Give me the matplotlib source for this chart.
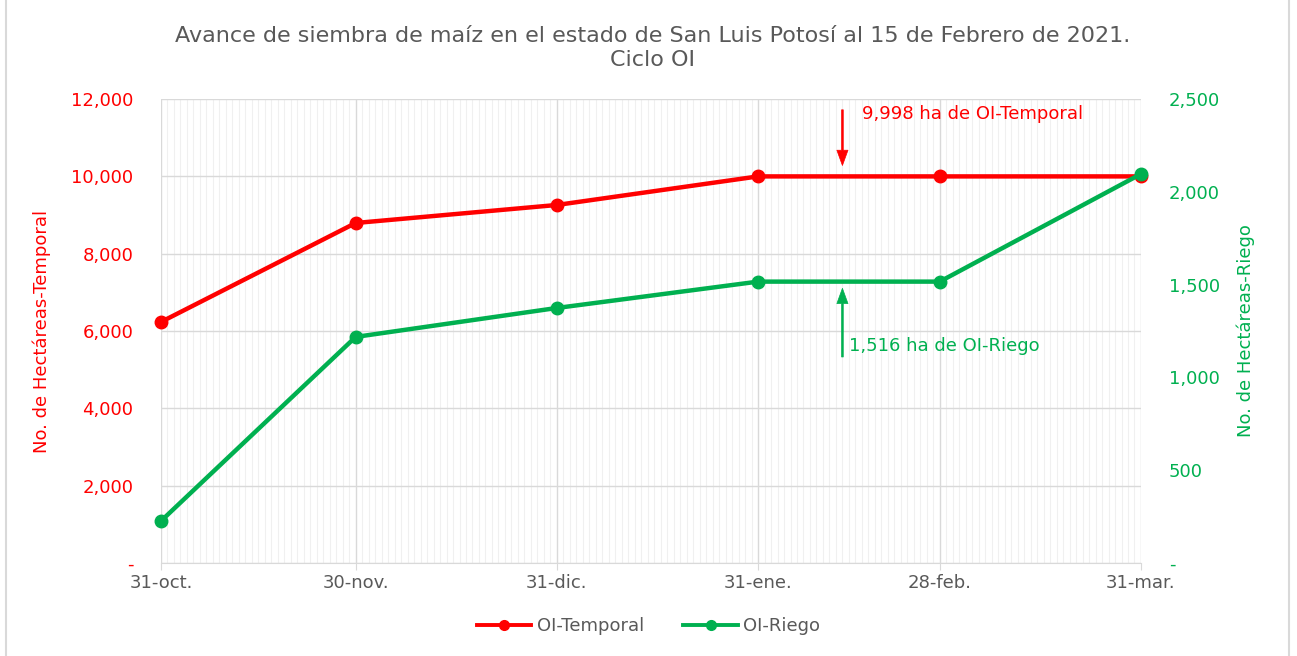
import matplotlib
matplotlib.use("Agg")
import matplotlib.pyplot as plt
import matplotlib.dates as mdates
import pandas as pd
from matplotlib.patches import Rectangle

plt.rcParams['font.family'] = ['DejaVu Sans']

fechas = ['2020-10-31', '2020-11-30', '2020-12-31', '2021-01-31', '2021-02-28', '2021-03-31']
etiquetas = ['31-oct.', '30-nov.', '31-dic.', '31-ene.', '28-feb.', '31-mar.']
temporal = [6233, 8793, 9259, 9998, 9998, 9998]
riego = [226, 1218, 1374, 1516, 1516, 2096]

x = pd.to_datetime(fechas)
ROJO = '#FF0000'
VERDE = '#00B050'
GRIS = '#595959'

fig = plt.figure(figsize=(12.97, 6.56), dpi=100)
ax = fig.add_axes([0.1241, 0.1418, 0.7556, 0.7073])
ax2 = ax.twinx()

fig.patches.append(Rectangle((0.005, -0.01), 0.989, 1.05, transform=fig.transFigure,
                             fill=False, edgecolor='#D9D9D9', lw=1.5))

l1, = ax.plot(x, temporal, color=ROJO, lw=3.2, marker='o', ms=9, clip_on=False, zorder=5,
              label='OI-Temporal')
l2, = ax2.plot(x, riego, color=VERDE, lw=3.2, marker='o', ms=9, clip_on=False, zorder=5,
               label='OI-Riego')

ax.set_xlim(x[0], x[-1])
ax.set_ylim(0, 12000)
ax2.set_ylim(0, 2500)

ax.set_xticks(x)
ax.set_xticklabels(etiquetas)
ax.xaxis.set_minor_locator(mdates.DayLocator())
ax.grid(True, which='major', color='#D9D9D9', lw=1)
ax.grid(True, which='minor', axis='x', color='#F0F0F0', lw=0.8)
ax.set_axisbelow(True)

fmt = lambda v, p: '-' if v == 0 else f'{v:,.0f}'
ax.set_yticks(range(0, 12001, 2000))
ax.yaxis.set_major_formatter(plt.FuncFormatter(fmt))
ax2.set_yticks(range(0, 2501, 500))
ax2.yaxis.set_major_formatter(plt.FuncFormatter(fmt))

for s in ['top', 'left', 'right']:
    ax.spines[s].set_visible(False)
    ax2.spines[s].set_visible(False)
ax.spines['bottom'].set_color('#D9D9D9')
ax2.spines['bottom'].set_visible(False)

ax.tick_params(axis='x', which='major', colors='#D9D9D9', labelcolor=GRIS, labelsize=13,
               length=5, pad=3)
ax.tick_params(axis='x', which='minor', length=0)
ax.tick_params(axis='y', length=0, labelcolor=ROJO, labelsize=13, pad=20)
ax2.tick_params(axis='y', length=0, labelcolor=VERDE, labelsize=13, pad=20)

ax.set_ylabel('No. de Hectáreas-Temporal', color=ROJO, fontsize=13, labelpad=14)
ax2.set_ylabel('No. de Hectáreas-Riego', color=VERDE, fontsize=13, rotation=90, labelpad=12)

fig.text(0.503, 0.927, 'Avance de siembra de maíz en el estado de San Luis Potosí al 15 de Febrero de 2021.\nCiclo OI',
         ha='center', va='center', fontsize=16, color=GRIS, linespacing=1.25)

xa = pd.Timestamp('2021-02-13')
flecha = 'simple,head_width=0.8,head_length=1.1,tail_width=0.12'
ax.annotate('', xy=(xa, 10280), xytext=(xa, 11720),
            arrowprops=dict(arrowstyle=flecha, color=ROJO, lw=0.5, shrinkA=0, shrinkB=0))
ax.text(pd.Timestamp('2021-02-16'), 11620, '9,998 ha de OI-Temporal', color=ROJO, fontsize=13,
        va='center')
ax2.annotate('', xy=(xa, 1480), xytext=(xa, 1110),
             arrowprops=dict(arrowstyle=flecha, color=VERDE, lw=0.5, shrinkA=0, shrinkB=0))
ax2.text(pd.Timestamp('2021-02-14'), 1170, '1,516 ha de OI-Riego', color=VERDE, fontsize=13,
         va='center')

leg = fig.legend([l1, l2], ['OI-Temporal', 'OI-Riego'], loc='center', bbox_to_anchor=(0.5, 0.045),
                 ncol=2, frameon=False, fontsize=13, handlelength=3, columnspacing=2.2,
                 handletextpad=0.3)
for h in leg.legend_handles:
    h.set_linewidth(2.8)
    h.set_markersize(7)
for t in leg.get_texts():
    t.set_color(GRIS)

fig.savefig('out.png', dpi=100)
